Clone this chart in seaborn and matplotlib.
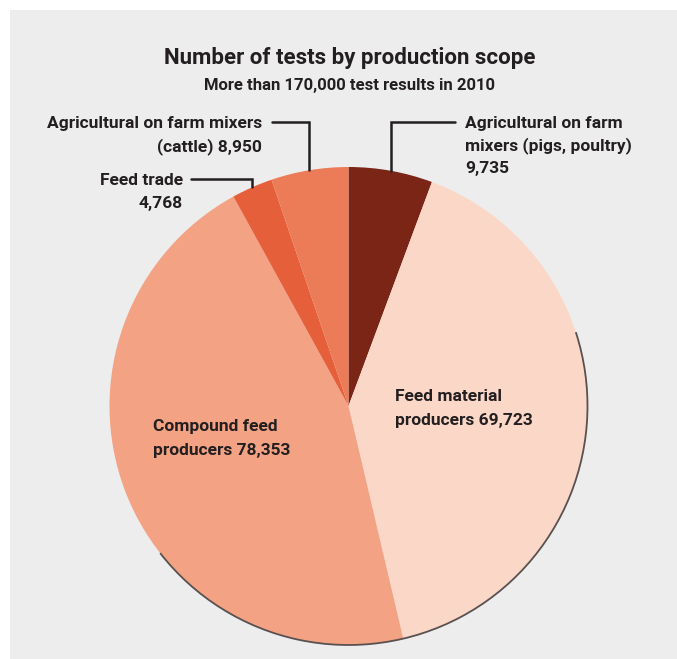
import matplotlib
matplotlib.use("Agg")
import matplotlib.pyplot as plt
from matplotlib import font_manager as fm
from matplotlib.patches import Rectangle, Arc
import numpy as np
import seaborn as sns

# Tests by production scope (2010), clockwise from 12 o'clock
segments = [
    "Agricultural on farm mixers (pigs, poultry)",
    "Feed material producers",
    "Compound feed producers",
    "Feed trade",
    "Agricultural on farm mixers (cattle)",
]
tests = [9735, 69723, 78353, 4768, 8950]
slice_colors = ["#7b2516", "#fad7c6", "#f3a283", "#e65f3b", "#ec7b57"]

title = "Number of tests by production scope"
subtitle = "More than 170,000 test results in 2010"

sns.set_theme(style="white")

names = {f.name for f in fm.fontManager.ttflist}
FONT = "DejaVu Sans"
for cand in ["Roboto", "Lato", "Open Sans"]:
    if cand in names:
        FONT = cand
        break
plt.rcParams["font.family"] = [FONT, "DejaVu Sans"]

W, H = 677, 659
fig = plt.figure(figsize=(W / 100, H / 100), dpi=100, facecolor="white")
ax = fig.add_axes([0, 0, 1, 1])

TXT = "#231f20"
CX, CY, R = 348.5, H - 406, 239


def py(y):
    """Convert a top-down pixel row to the axes' y coordinate."""
    return H - y


# grey panel behind the chart
ax.add_patch(Rectangle((10, 0), W - 10, H - 10, facecolor="#ededed",
                       edgecolor="none", zorder=0))

wedges, _ = ax.pie(tests, colors=slice_colors, startangle=90, counterclock=False,
                   center=(CX, CY), radius=R, wedgeprops=dict(linewidth=0))
for w in wedges:
    w.set_zorder(2)

# thin rim along the lower right of the pie
ax.add_patch(Arc((CX, CY), 2 * R, 2 * R, theta1=-142, theta2=18,
                 color="#5a5050", lw=1.3, zorder=3))

ax.set_xlim(0, W)
ax.set_ylim(0, H)
ax.set_aspect("equal")
ax.axis("off")

mids = {}
for name, w in zip(segments, wedges):
    mids[name] = np.deg2rad((w.theta1 + w.theta2) / 2)


def edge_point(name):
    a = mids[name]
    return CX + R * np.cos(a), CY + R * np.sin(a)


LS = 23  # line spacing in px
FS_T, FS_L = 16, 12.5

ax.text(349.5, py(64), title, ha="center", va="baseline", fontsize=FS_T,
        fontweight="bold", color=TXT)
ax.text(350, py(90), subtitle, ha="center", va="baseline", fontsize=FS_L - 0.5,
        fontweight="bold", color=TXT)

lw = 1.8
# cattle: label on the left, leader elbow
ex, ey = edge_point(segments[4])
ax.plot([272, ex, ex], [py(122), py(122), ey], color=TXT, lw=lw, zorder=4,
        solid_joinstyle="miter")
ax.text(262, py(128), "Agricultural on farm mixers", ha="right", va="baseline",
        fontsize=FS_L, fontweight="bold", color=TXT)
ax.text(262, py(128 + LS), f"(cattle) {tests[4]:,}", ha="right", va="baseline",
        fontsize=FS_L, fontweight="bold", color=TXT)

# feed trade
ex, ey = edge_point(segments[3])
ax.plot([191, ex, ex], [py(179), py(179), ey], color=TXT, lw=lw, zorder=4,
        solid_joinstyle="miter")
ax.text(183, py(185), "Feed trade", ha="right", va="baseline",
        fontsize=FS_L, fontweight="bold", color=TXT)
ax.text(183, py(185 + LS), f"{tests[3]:,}", ha="right", va="baseline",
        fontsize=FS_L, fontweight="bold", color=TXT)

# pigs, poultry: label on the right
ex, ey = edge_point(segments[0])
ax.plot([455, ex, ex], [py(122), py(122), ey], color=TXT, lw=lw, zorder=4,
        solid_joinstyle="miter")
for i, line in enumerate(["Agricultural on farm", "mixers (pigs, poultry)",
                          f"{tests[0]:,}"]):
    ax.text(465, py(128 + i * 22.5), line, ha="left", va="baseline",
            fontsize=FS_L, fontweight="bold", color=TXT)

# labels inside the two large slices
for i, line in enumerate(["Feed material", f"producers {tests[1]:,}"]):
    ax.text(395, py(401 + i * 24), line, ha="left", va="baseline",
            fontsize=FS_L, fontweight="bold", color=TXT, zorder=5)
for i, line in enumerate(["Compound feed", f"producers {tests[2]:,}"]):
    ax.text(153, py(431 + i * 24), line, ha="left", va="baseline",
            fontsize=FS_L, fontweight="bold", color=TXT, zorder=5)

fig.savefig("out.png", dpi=100, facecolor="white")
